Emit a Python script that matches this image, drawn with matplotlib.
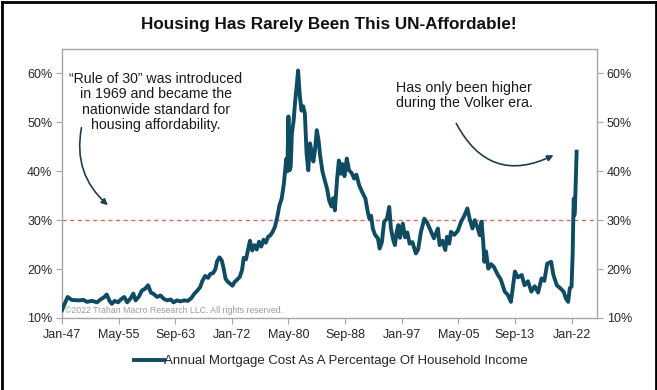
import matplotlib
matplotlib.use("Agg")
import matplotlib.pyplot as plt
from matplotlib.lines import Line2D
from matplotlib.patches import FancyArrowPatch

# monthly readings taken off the reference chart (sparse, by eye)
dates = [
    "1947-01", "1947-06", "1947-11", "1948-06", "1949-06", "1950-03", "1950-09", "1951-06",
    "1952-03", "1952-09", "1953-03", "1953-08", "1954-01", "1954-05", "1954-10", "1955-04",
    "1955-09", "1956-03", "1956-08", "1957-02", "1957-07", "1957-11", "1958-05", "1958-10",
    "1959-04", "1959-09", "1960-02", "1960-07", "1961-01", "1961-07", "1962-01", "1962-07",
    "1963-01", "1963-06", "1963-12", "1964-06", "1965-01", "1965-07", "1966-01", "1966-07",
    "1966-12", "1967-05", "1967-09", "1968-02", "1968-07", "1968-11", "1969-04", "1969-08",
    "1969-11", "1970-03", "1970-07", "1970-10", "1971-02", "1971-06", "1971-10", "1972-02",
    "1972-06", "1972-10", "1973-03", "1973-07", "1973-10", "1974-02", "1974-06", "1974-09",
    "1975-01", "1975-05", "1975-09", "1976-01", "1976-05", "1976-09", "1977-01", "1977-05",
    "1977-09", "1978-01", "1978-05", "1978-09", "1979-01", "1979-05", "1979-09", "1980-01",
    "1980-03", "1980-05", "1980-07", "1980-09", "1980-11", "1981-02", "1981-05", "1981-08",
    "1981-10", "1982-01", "1982-04", "1982-07", "1982-10", "1983-01", "1983-04", "1983-07",
    "1983-10", "1984-01", "1984-04", "1984-07", "1984-10", "1985-01", "1985-05", "1985-09",
    "1986-01", "1986-05", "1986-09", "1986-12", "1987-03", "1987-07", "1987-10", "1988-01",
    "1988-04", "1988-08", "1988-12", "1989-04", "1989-09", "1990-01", "1990-05", "1990-10",
    "1991-03", "1991-09", "1992-01", "1992-04", "1992-07", "1992-10", "1993-02", "1993-07",
    "1993-10", "1994-02", "1994-06", "1994-11", "1995-03", "1995-06", "1995-10", "1996-01",
    "1996-04", "1996-07", "1996-10", "1997-03", "1997-07", "1997-11", "1998-03", "1998-08",
    "1999-02", "1999-06", "1999-11", "2000-05", "2000-10", "2001-05", "2001-10", "2002-05",
    "2002-08", "2003-01", "2003-06", "2003-09", "2004-01", "2004-04", "2004-10", "2005-04",
    "2005-10", "2006-04", "2006-09", "2007-01", "2007-06", "2007-10", "2008-03", "2008-07",
    "2008-10", "2009-01", "2009-03", "2009-06", "2009-10", "2010-03", "2010-08", "2011-03",
    "2011-08", "2012-03", "2012-08", "2013-02", "2013-09", "2014-02", "2014-09", "2015-02",
    "2015-08", "2016-02", "2016-08", "2017-02", "2017-08", "2018-01", "2018-06", "2019-01",
    "2019-05", "2019-11", "2020-05", "2020-11", "2021-03", "2021-07", "2021-10", "2022-01",
    "2022-03", "2022-04", "2022-05", "2022-06", "2022-07", "2022-08", "2022-10",
]
values = [
    11.6, 13.0, 14.3, 13.7, 13.6, 13.7, 13.3, 13.5,
    13.2, 13.8, 14.2, 14.8, 13.5, 12.9, 13.5, 13.2,
    13.8, 14.3, 13.2, 14.0, 15.0, 13.6, 14.4, 15.6,
    16.0, 16.7, 15.2, 14.9, 14.3, 14.6, 13.9, 13.6,
    13.8, 13.2, 13.6, 13.4, 13.6, 13.5, 14.0, 15.0,
    15.6, 16.3, 17.6, 18.6, 18.2, 19.0, 19.2, 20.0,
    21.6, 22.4, 21.8, 20.4, 18.0, 17.4, 17.0, 16.6,
    17.4, 17.8, 18.4, 19.8, 22.3, 22.0, 24.2, 25.8,
    23.8, 24.9, 24.0, 25.6, 24.6, 26.0, 25.4, 26.6,
    26.9, 27.6, 28.6, 30.5, 33.0, 34.4, 37.5, 42.5,
    40.0, 51.2, 40.2, 41.0, 47.7, 50.2, 54.5, 58.0,
    60.6, 55.5, 52.4, 53.3, 51.8, 43.6, 40.2, 45.7,
    44.0, 42.0, 44.5, 48.4, 46.5, 43.2, 40.0, 38.2,
    36.5, 34.0, 32.8, 34.5, 32.0, 38.5, 42.2, 39.5,
    41.5, 39.0, 42.6, 40.2, 39.6, 38.5, 39.3, 37.1,
    35.8, 34.4, 31.7, 30.3, 30.9, 28.3, 27.0, 26.3,
    24.2, 25.5, 29.7, 30.3, 32.7, 28.3, 26.0, 24.9,
    27.5, 29.0, 26.4, 29.3, 26.5, 27.5, 25.2, 25.5,
    23.2, 24.0, 27.6, 30.3, 29.5, 27.6, 26.3, 28.3,
    24.9, 25.8, 23.9, 26.6, 25.2, 27.6, 27.0, 27.8,
    29.7, 31.0, 32.4, 30.3, 28.3, 30.0, 28.5, 26.9,
    29.7, 25.6, 21.5, 23.6, 20.1, 21.0, 20.4, 18.8,
    17.9, 15.4, 14.8, 13.3, 19.5, 18.3, 18.8, 16.7,
    17.5, 15.4, 16.5, 15.2, 18.1, 17.6, 21.1, 21.5,
    18.8, 16.7, 16.1, 15.4, 14.0, 13.3, 16.1, 16.4,
    23.0, 29.7, 34.4, 31.0, 32.4, 36.0, 44.0,
]

tick_labels = ["Jan-47", "May-55", "Sep-63", "Jan-72", "May-80",
               "Sep-88", "Jan-97", "May-05", "Sep-13", "Jan-22"]
y_ticks = [10, 20, 30, 40, 50, 60]
rule_of_30 = 30

LINE_COLOR = "#0f4c64"
TEXT_COLOR = "#262626"
AXIS_COLOR = "#a6a6a6"
ARROW_COLOR = "#1f3f4f"
FONT = "Liberation Sans"

W, H = 657, 390


def month_index(s):
    y, m = s.split("-")
    return (int(y) - 1947) * 12 + int(m) - 1


def to_disp(p):
    # pixel position measured from the top-left corner -> display coords
    return (p[0], H - p[1])


x = [month_index(d) for d in dates]

fig = plt.figure(figsize=(W / 100, H / 100), dpi=100)
ax = fig.add_axes([62 / W, 1 - 318 / H, (597 - 62) / W, (318 - 49) / H])

ax.plot(x, values, color=LINE_COLOR, linewidth=2.8, solid_joinstyle="round",
        label="Annual Mortgage Cost As A Percentage Of Household Income", zorder=3)
ax.axhline(rule_of_30, color="#d9705f", linewidth=1.0, linestyle=(0, (3, 2.5)), zorder=2)

ax.set_xlim(0, 945)
ax.set_ylim(10, 65)
ax.set_xticks(range(0, 100 * len(tick_labels), 100))
ax.set_xticklabels(tick_labels)
ax.set_yticks(y_ticks)
ax.set_yticklabels([f"{v}%" for v in y_ticks])
ax.tick_params(axis="x", direction="out", length=4, color=AXIS_COLOR, labelsize=9,
               labelcolor=TEXT_COLOR, pad=4)
ax.tick_params(axis="y", direction="out", length=4, color=AXIS_COLOR, labelsize=9,
               labelcolor=TEXT_COLOR, pad=3, labelright=True, right=True)
for lab in ax.get_xticklabels() + ax.get_yticklabels():
    lab.set_fontfamily(FONT)
for sp in ax.spines.values():
    sp.set_color(AXIS_COLOR)
    sp.set_linewidth(1.0)

ax.text(5, 10.6, "\u00a92022 Trahan Macro Research LLC. All rights reserved.",
        fontsize=6.3, color="#9a9a9a", family=FONT, ha="left", va="bottom")

# annotations
fig.text(156 / W, 1 - 102 / H,
         "\u201cRule of 30\u201d was introduced\nin 1969 and became the\nnationwide standard for\nhousing affordability.",
         ha="center", va="center", multialignment="center", fontsize=10.2, family=FONT,
         color="#1a1a1a", linespacing=1.12)
fig.text(464 / W, 1 - 95.5 / H, "Has only been higher\nduring the Volker era.",
         ha="center", va="center", multialignment="center", fontsize=10.3, family=FONT,
         color="#1a1a1a", linespacing=1.12)

arr1 = FancyArrowPatch(to_disp((82, 125)), to_disp((110, 207)), transform=None,
                       connectionstyle="arc3,rad=0.3", arrowstyle="-|>", mutation_scale=9,
                       color=ARROW_COLOR, linewidth=1.2)
arr2 = FancyArrowPatch(to_disp((455, 121)), to_disp((556, 154)), transform=None,
                       connectionstyle="arc3,rad=0.5", arrowstyle="-|>", mutation_scale=9,
                       color=ARROW_COLOR, linewidth=1.2)
fig.patches.extend([arr1, arr2])

fig.text(0.5, 1 - 25 / H, "Housing Has Rarely Been This UN-Affordable!",
         ha="center", va="center", fontsize=12.3, fontweight="bold",
         family=FONT, color="#111111")

leg = fig.legend(loc="center", bbox_to_anchor=(331 / W, 1 - 361 / H), frameon=False,
                 handlelength=2.3, handletextpad=0.0, prop={"family": FONT, "size": 9.5})
for t in leg.get_texts():
    t.set_color(TEXT_COLOR)

# outer black frame (left, top, right)
for xs, ys in [((1.5 / W, 1.5 / W), (0, 1 - 1.5 / H)),
               ((1.5 / W, 1 - 1.5 / W), (1 - 1.5 / H, 1 - 1.5 / H)),
               ((1 - 1.5 / W, 1 - 1.5 / W), (0, 1 - 1.5 / H))]:
    fig.add_artist(Line2D(xs, ys, color="black", linewidth=2.0, transform=fig.transFigure))

fig.savefig("out.png", dpi=100)
